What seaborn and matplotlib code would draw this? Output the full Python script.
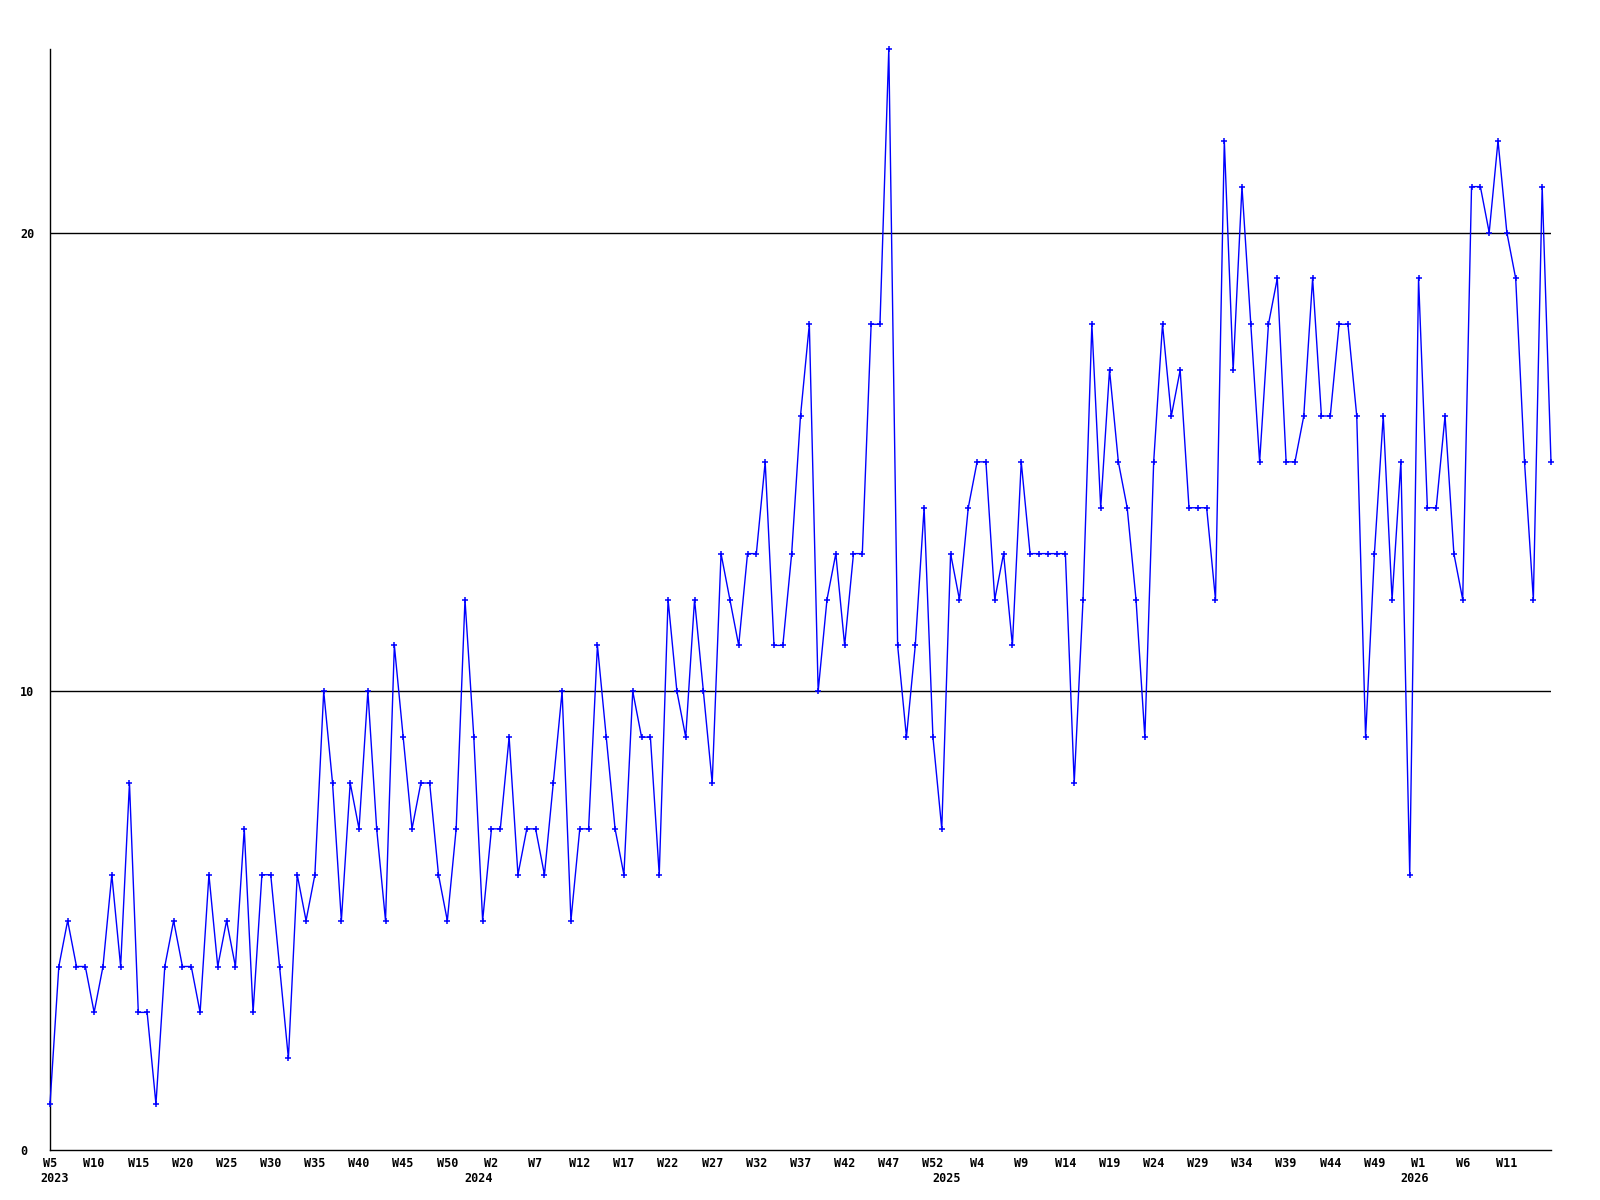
import matplotlib
matplotlib.use("Agg")
import matplotlib.pyplot as plt
import matplotlib.transforms as mtransforms
import seaborn as sns
import pandas as pd

# ---- data -------------------------------------------------------------
values = [
    1, 4, 5, 4, 4, 3, 4, 6, 4, 8,
    3, 3, 1, 4, 5, 4, 4, 3, 6, 4,
    5, 4, 7, 3, 6, 6, 4, 2, 6, 5,
    6, 10, 8, 5, 8, 7, 10, 7, 5, 11,
    9, 7, 8, 8, 6, 5, 7, 12, 9, 5,
    7, 7, 9, 6, 7, 7, 6, 8, 10, 5,
    7, 7, 11, 9, 7, 6, 10, 9, 9, 6,
    12, 10, 9, 12, 10, 8, 13, 12, 11, 13,
    13, 15, 11, 11, 13, 16, 18, 10, 12, 13,
    11, 13, 13, 18, 18, 24, 11, 9, 11, 14,
    9, 7, 13, 12, 14, 15, 15, 12, 13, 11,
    15, 13, 13, 13, 13, 13, 8, 12, 18, 14,
    17, 15, 14, 12, 9, 15, 18, 16, 17, 14,
    14, 14, 12, 22, 17, 21, 18, 15, 18, 19,
    15, 15, 16, 19, 16, 16, 18, 18, 16, 9,
    13, 16, 12, 15, 6, 19, 14, 14, 16, 13,
    12, 21, 21, 20, 22, 20, 19, 15, 12, 21,
    15,
]
week_tick_labels = [
    "W5", "W10", "W15", "W20", "W25", "W30", "W35", "W40", "W45", "W50",
    "W2", "W7", "W12", "W17", "W22", "W27", "W32", "W37", "W42", "W47",
    "W52", "W4", "W9", "W14", "W19", "W24", "W29", "W34", "W39", "W44",
    "W49", "W1", "W6", "W11",
]
year_labels = ["2023", "2024", "2025", "2026"]
year_start_index = [0, 49, 102, 155]
y_ticks = [0, 10, 20]

df = pd.DataFrame({"idx": list(range(len(values))), "value": values})

# ---- figure -----------------------------------------------------------
sns.set_theme(style="white")
plt.rcParams["font.family"] = ["DejaVu Sans Mono", "DejaVu Sans"]

fig = plt.figure(figsize=(16, 12), dpi=100)
ax = fig.add_axes([50 / 1600, 50 / 1200, 1501 / 1600, 1101 / 1200])

sns.lineplot(data=df, x="idx", y="value", ax=ax, color="#0000FF",
             linewidth=1.0, marker="+", markersize=4.5,
             markeredgewidth=1.1, markeredgecolor="#0000FF")
for ln in ax.lines:
    ln.set_clip_on(False)
    ln.set_zorder(3)

ax.set_xlim(0, len(values) - 1)
ax.set_ylim(0, max(values))

# horizontal reference lines
for yv in y_ticks[1:]:
    ax.axhline(yv, color="black", linewidth=1.0, zorder=1)

ax.set_yticks(y_ticks)
ax.set_yticklabels([str(v) for v in y_ticks])
ax.set_xticks(list(range(0, 5 * len(week_tick_labels), 5)))
ax.set_xticklabels(week_tick_labels)

ax.tick_params(axis="both", length=0, labelsize=8.5, colors="black")
ax.tick_params(axis="x", pad=5.0)
ax.tick_params(axis="y", pad=21.6)
for lab in ax.get_yticklabels():
    lab.set_horizontalalignment("left")
    lab.set_fontweight("bold")
for lab in ax.get_xticklabels():
    lab.set_fontweight("bold")

ax.set_xlabel("")
ax.set_ylabel("")

for side in ["top", "right"]:
    ax.spines[side].set_visible(False)
for side in ["left", "bottom"]:
    ax.spines[side].set_color("black")
    ax.spines[side].set_linewidth(1.0)

# year labels under the week labels
trans = mtransforms.blended_transform_factory(ax.transData, ax.transAxes)
for i, (lbl, pos) in enumerate(zip(year_labels, year_start_index)):
    if i == 0:
        off = mtransforms.ScaledTranslation(-10 / 100, -22 / 100, fig.dpi_scale_trans)
        ha = "left"
    else:
        off = mtransforms.ScaledTranslation(-4 / 100, -22 / 100, fig.dpi_scale_trans)
        ha = "center"
    ax.text(pos, 0, lbl, transform=trans + off,
            ha=ha, va="top", fontsize=8.5, fontweight="bold", color="black")

fig.savefig("out.png", dpi=100, facecolor="white")
